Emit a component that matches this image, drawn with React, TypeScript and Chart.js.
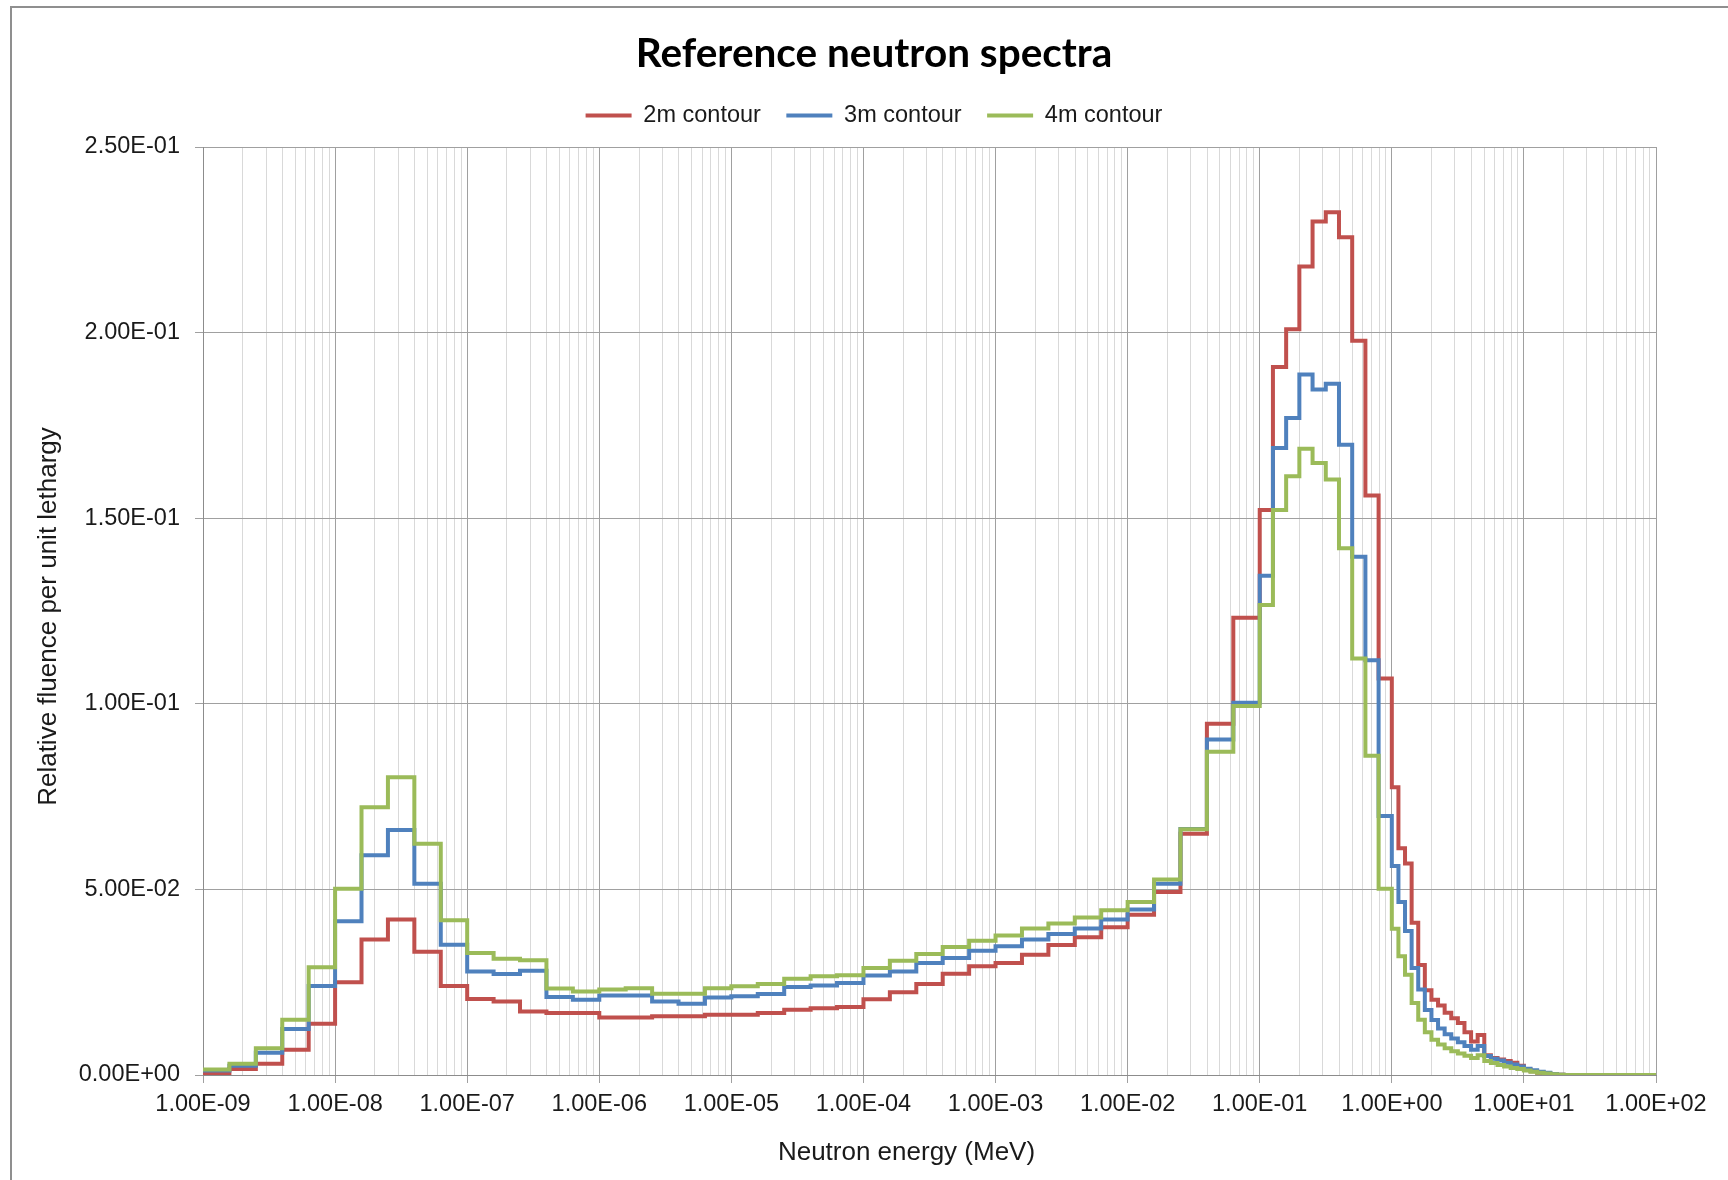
import React, { useEffect, useRef } from 'react';
import { Chart, registerables } from 'chart.js';

Chart.register(...registerables);

// Bin edges (log10 of neutron energy in MeV)
const LOG_EDGES: number[] = [
  -9, -8.8, -8.6, -8.4, -8.2, -8, -7.8, -7.6, -7.4, -7.2,
  -7, -6.8, -6.6, -6.4, -6.2, -6, -5.8, -5.6, -5.4, -5.2,
  -5, -4.8, -4.6, -4.4, -4.2, -4, -3.8, -3.6, -3.4, -3.2,
  -3, -2.8, -2.6, -2.4, -2.2, -2, -1.8, -1.6, -1.4, -1.2,
  -1, -0.9, -0.8, -0.7, -0.6, -0.5, -0.4, -0.3, -0.2, -0.1,
  0, 0.05, 0.1, 0.15, 0.2, 0.25, 0.3, 0.35, 0.4, 0.45,
  0.5, 0.55, 0.6, 0.65, 0.7, 0.75, 0.8, 0.85, 0.9, 0.95,
  1, 1.05, 1.1, 1.15, 1.2, 1.25, 1.3, 2,
];

const SERIES_2M: number[] = [
  0.0005, 0.0016, 0.0030, 0.0068, 0.0138, 0.0250, 0.0365, 0.0419, 0.0332, 0.0240,
  0.0205, 0.0198, 0.0171, 0.0167, 0.0167, 0.0155, 0.0155, 0.0158, 0.0158, 0.0162,
  0.0162, 0.0167, 0.0176, 0.0180, 0.0183, 0.0204, 0.0223, 0.0245, 0.0273, 0.0293,
  0.0302, 0.0324, 0.0350, 0.0371, 0.0398, 0.0432, 0.0493, 0.0650, 0.0946, 0.1232,
  0.1522, 0.1907, 0.2009, 0.2178, 0.2299, 0.2324, 0.2257, 0.1978, 0.1561, 0.1068,
  0.0775, 0.0611, 0.0570, 0.0410, 0.0296, 0.0228, 0.0203, 0.0187, 0.0168, 0.0153,
  0.0140, 0.0115, 0.0090, 0.0108, 0.0053, 0.0046, 0.0042, 0.0038, 0.0033, 0.0025,
  0.0015, 0.0010, 0.0006, 0.0004, 0.0002, 0.0001, 0,
];

const SERIES_3M: number[] = [
  0.0012, 0.0025, 0.0060, 0.0124, 0.0240, 0.0414, 0.0592, 0.0660, 0.0515, 0.0351,
  0.0279, 0.0272, 0.0281, 0.0210, 0.0203, 0.0214, 0.0214, 0.0198, 0.0192, 0.0209,
  0.0212, 0.0218, 0.0237, 0.0241, 0.0248, 0.0268, 0.0279, 0.0302, 0.0315, 0.0335,
  0.0347, 0.0365, 0.0380, 0.0395, 0.0419, 0.0446, 0.0515, 0.0663, 0.0904, 0.1003,
  0.1345, 0.1689, 0.1770, 0.1887, 0.1847, 0.1862, 0.1698, 0.1396, 0.1117, 0.0698,
  0.0563, 0.0466, 0.0388, 0.0288, 0.0230, 0.0175, 0.0148, 0.0125, 0.0110, 0.0098,
  0.0088, 0.0078, 0.0068, 0.0078, 0.0051, 0.0044, 0.0039, 0.0033, 0.0028, 0.0023,
  0.0017, 0.0013, 0.0009, 0.0006, 0.0003, 0.0001, 0,
];

const SERIES_4M: number[] = [
  0.0015, 0.0030, 0.0072, 0.0149, 0.0290, 0.0502, 0.0721, 0.0802, 0.0623, 0.0417,
  0.0329, 0.0313, 0.0309, 0.0233, 0.0225, 0.0230, 0.0234, 0.0219, 0.0219, 0.0234,
  0.0239, 0.0245, 0.0259, 0.0266, 0.0269, 0.0288, 0.0308, 0.0326, 0.0345, 0.0362,
  0.0376, 0.0395, 0.0408, 0.0424, 0.0444, 0.0466, 0.0527, 0.0662, 0.0871, 0.0994,
  0.1266, 0.1522, 0.1613, 0.1687, 0.1649, 0.1604, 0.1419, 0.1122, 0.0860, 0.0502,
  0.0394, 0.0320, 0.0270, 0.0194, 0.0149, 0.0115, 0.0095, 0.0082, 0.0072, 0.0064,
  0.0058, 0.0052, 0.0046, 0.0053, 0.0038, 0.0032, 0.0027, 0.0023, 0.0019, 0.0016,
  0.0012, 0.0009, 0.0006, 0.0004, 0.0002, 0.0001, 0,
];

const SERIES_LABELS = ['2m contour', '3m contour', '4m contour'];
const SERIES_COLORS = ['#C0504D', '#4F81BD', '#9BBB59'];

const X_DECADES = [-9, -8, -7, -6, -5, -4, -3, -2, -1, 0, 1, 2];
const X_MINOR_MULTS = [2, 3, 4, 5, 6, 7, 8, 9];
const Y_MIN = 0;
const Y_MAX = 0.25;
const Y_STEP = 0.05;

const TITLE = 'Reference neutron spectra';
const X_TITLE = 'Neutron energy (MeV)';
const Y_TITLE = 'Relative fluence per unit lethargy';

const FONT = "'Liberation Sans', Arial, sans-serif";
const TEXT_COLOR = '#1a1a1a';
const MAJOR_GRID = '#a0a0a0';
const MINOR_GRID = '#d9d9d9';

function sci(v: number): string {
  if (Math.abs(v) < 1e-15) return '0.00E+00';
  const [m, e] = v.toExponential(2).split('e');
  const n = parseInt(e, 10);
  return m + 'E' + (n < 0 ? '-' : '+') + String(Math.abs(n)).padStart(2, '0');
}

function toSteps(values: number[]) {
  const pts = values.map((v, i) => ({ x: Math.pow(10, LOG_EDGES[i]), y: v }));
  pts.push({ x: Math.pow(10, LOG_EDGES[values.length]), y: values[values.length - 1] });
  return pts;
}

function buildXTicks() {
  const ticks: { value: number; major: boolean }[] = [];
  X_DECADES.forEach((d, i) => {
    ticks.push({ value: Math.pow(10, d), major: true });
    if (i < X_DECADES.length - 1) {
      X_MINOR_MULTS.forEach((m) => ticks.push({ value: m * Math.pow(10, d), major: false }));
    }
  });
  return ticks;
}

// Axis titles, placed as in the original (slightly off the plot centre).
const axisTitlePlugin = {
  id: 'axisTitles',
  afterDraw(chart: any) {
    const { ctx, chartArea } = chart;
    ctx.save();
    ctx.font = `26px ${FONT}`;
    ctx.fillStyle = TEXT_COLOR;
    ctx.textAlign = 'center';
    ctx.textBaseline = 'middle';
    ctx.fillText(X_TITLE, (chartArea.left + chartArea.right) / 2 - 23, 1153);
    ctx.translate(48.5, (chartArea.top + chartArea.bottom) / 2 + 5.5);
    ctx.rotate(-Math.PI / 2);
    ctx.fillText(Y_TITLE, 0, 0);
    ctx.restore();
  },
};

export default function App() {
  const ref = useRef<HTMLCanvasElement | null>(null);

  useEffect(() => {
    const canvas = ref.current;
    if (!canvas) return;
    const all = [SERIES_2M, SERIES_3M, SERIES_4M];
    const datasets = all.map((vals, i) => ({
      label: SERIES_LABELS[i],
      data: toSteps(vals),
      borderColor: SERIES_COLORS[i],
      backgroundColor: SERIES_COLORS[i],
      borderWidth: 4,
      stepped: true as const,
      pointRadius: 0,
      fill: false,
      order: 2 - i,
    }));

    const chart = new Chart(canvas, {
      type: 'line',
      data: { datasets },
      plugins: [axisTitlePlugin],
      options: {
        responsive: false,
        animation: false,
        devicePixelRatio: 1,
        events: [],
        layout: { padding: { left: 20, right: 0, top: 0, bottom: 0 } },
        plugins: {
          tooltip: { enabled: false },
          title: {
            display: true,
            text: TITLE,
            color: '#000',
            font: { family: "Lato, 'Liberation Sans', sans-serif", size: 40.5, weight: 'bold' },
            padding: { top: 29.7, bottom: 0 },
          },
          subtitle: {
            display: true,
            text: '',
            weight: 500,
            font: { size: 1 },
            padding: { top: 0, bottom: 8.55 },
          },
          legend: {
            display: true,
            position: 'top',
            labels: {
              usePointStyle: true,
              pointStyle: 'line',
              pointStyleWidth: 46,
              padding: 25.45,
              color: TEXT_COLOR,
              font: { family: FONT, size: 23.5 },
              sort: (a: any, b: any) => a.datasetIndex - b.datasetIndex,
            },
          },
        },
        scales: {
          x: {
            type: 'logarithmic',
            min: Math.pow(10, X_DECADES[0]),
            max: Math.pow(10, X_DECADES[X_DECADES.length - 1]),
            afterBuildTicks: (scale: any) => {
              scale.ticks = buildXTicks();
            },
            afterFit: (scale: any) => {
              scale.height = 105;
              scale.paddingRight = 72;
            },
            ticks: {
              autoSkip: false,
              maxRotation: 0,
              minRotation: 0,
              padding: 7,
              color: TEXT_COLOR,
              font: { family: FONT, size: 23.5 },
              callback: (value: any, index: number, ticks: any[]) =>
                ticks[index] && ticks[index].major ? sci(Number(value)) : '',
            },
            grid: {
              color: (ctx: any) => (ctx.tick && ctx.tick.major ? MAJOR_GRID : MINOR_GRID),
              tickColor: (ctx: any) => (ctx.tick && ctx.tick.major ? MAJOR_GRID : 'rgba(0,0,0,0)'),
              tickLength: 8,
              lineWidth: 1,
            },
            border: { display: true, color: '#8c8c8c', width: 1 },
            title: { display: false },
          },
          y: {
            type: 'linear',
            min: Y_MIN,
            max: Y_MAX,
            afterFit: (scale: any) => {
              scale.width = 203 - 20;
              scale.paddingTop = 147;
            },
            ticks: {
              stepSize: Y_STEP,
              padding: 15,
              color: TEXT_COLOR,
              font: { family: FONT, size: 23.5 },
              callback: (value: any) => sci(Number(value)),
            },
            grid: {
              color: MAJOR_GRID,
              tickColor: MAJOR_GRID,
              tickLength: 8,
              lineWidth: 1,
            },
            border: { display: true, color: '#8c8c8c', width: 1 },
            title: { display: false },
          },
        },
      } as any,
    });
    return () => chart.destroy();
  }, []);

  return (
    <div
      style={{
        position: 'absolute',
        left: 0,
        top: 0,
        width: 1728,
        height: 1180,
        overflow: 'hidden',
        background: '#fff',
      }}
    >
      <div
        style={{
          position: 'absolute',
          left: 10,
          top: 6,
          width: 1800,
          height: 1300,
          borderLeft: '2px solid #8f8f8f',
          borderTop: '2px solid #8f8f8f',
        }}
      />
      <canvas
        ref={ref}
        width={1728}
        height={1180}
        style={{ position: 'absolute', left: 0, top: 0, width: 1728, height: 1180 }}
      />
    </div>
  );
}
